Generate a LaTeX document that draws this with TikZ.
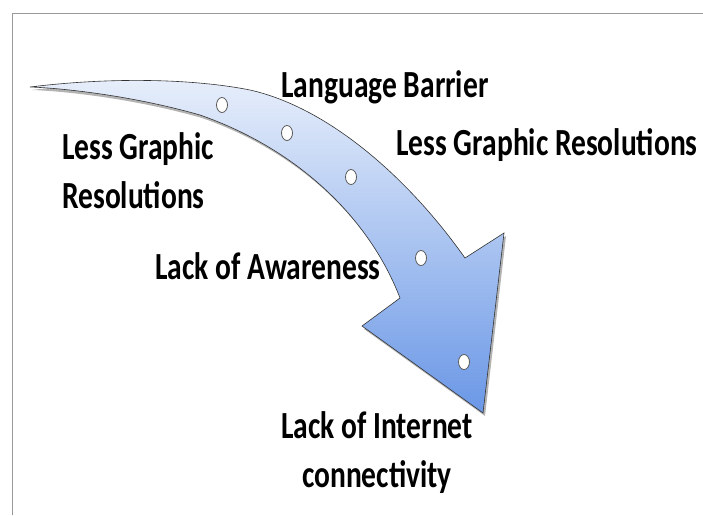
\documentclass[tikz,border=0pt]{standalone}
\usepackage{fontspec}
\setmainfont{Carlito}
\usetikzlibrary{shapes.geometric,shadows}
\definecolor{shaftlight}{HTML}{E8EFFB}
\definecolor{shaftdark}{HTML}{6A97E6}
\newcommand{\tallbox}[2][c]{\scalebox{1}[1.3]{\begin{tabular}{@{}#1@{}}#2\end{tabular}}}
\begin{document}
\begin{tikzpicture}[x=1pt, y=-1pt,
    lbl/.style={font=\fontsize{29.5}{38}\selectfont\bfseries, inner sep=0pt},
    dot/.style={ellipse, minimum width=11pt, minimum height=15pt, inner sep=0pt, fill=white, draw=gray!70!black, line width=0.8pt},
    frm/.style={draw=gray!80, line width=1pt}]
    \useasboundingbox (0,0) rectangle (703,515);

    % frame
    \coordinate (c0) at (12,13);
    \coordinate (c1) at (703,13);
    \coordinate (c2) at (12,515);
    \draw[frm] (c1) -- (c0) -- (c2);

    % curved arrow
    \draw[draw=gray!40!black, line width=0.6pt, top color=shaftlight, bottom color=shaftdark,
          drop shadow={shadow xshift=2pt, shadow yshift=-3pt, opacity=0.6}]
      (30,87) .. controls (120,76) and (200,80) .. (250,90)
      .. controls (330,108) and (410,180) .. (465,258)
      -- (504,233) -- (483,413) -- (362,326) -- (400,298)
      .. controls (370,220) and (300,150) .. (200,115)
      .. controls (130,95) and (60,88) .. (30,87) -- cycle;

    \node[dot] (d1) at (222,105) {};
    \node[dot] (d2) at (287,133) {};
    \node[dot] (d3) at (351,177) {};
    \node[dot] (d4) at (421,258) {};
    \node[dot] (d5) at (464,362) {};

    \node[lbl] (lang) at (385,88) {\tallbox{Language Barrier}};
    \node[lbl] (resr) at (547,146) {\tallbox{Less Graphic Resolutions}};
    \node[lbl, anchor=west] (resl) at (62,174) {\tallbox[l]{Less Graphic\\Resolutions}};
    \node[lbl] (aware) at (268,270) {\tallbox{Lack of Awareness}};
    \node[lbl] (inet) at (377,453) {\tallbox{Lack of Internet\\connectivity}};
  \end{tikzpicture}
\end{document}
